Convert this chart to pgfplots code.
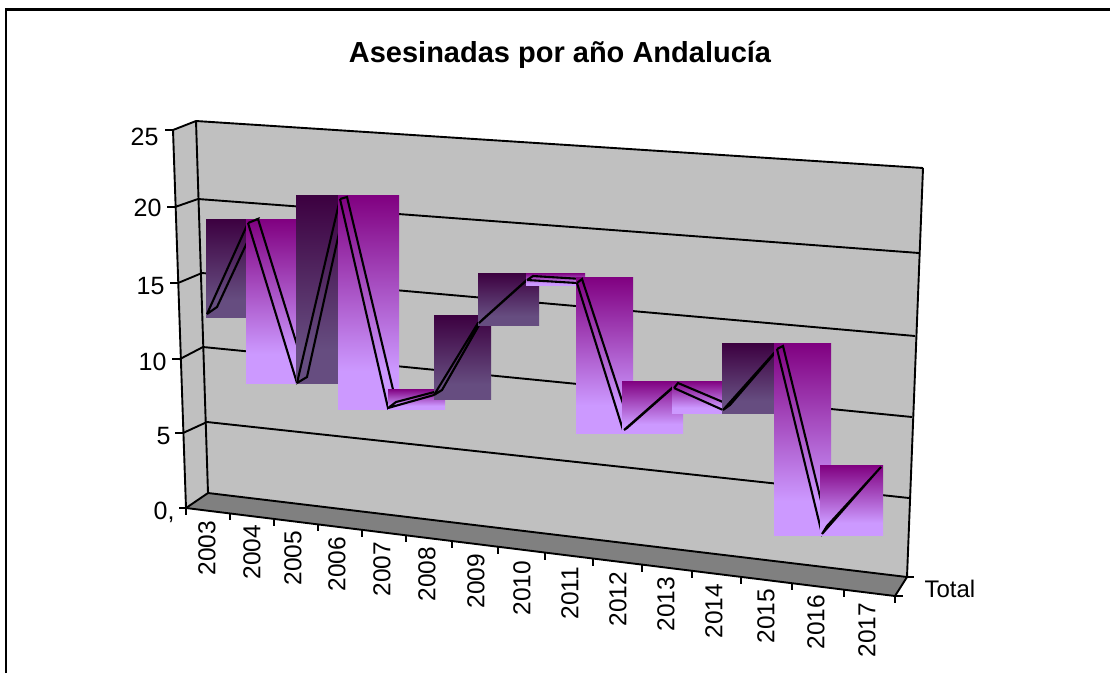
\documentclass[border=0pt]{standalone}
\usepackage{fontspec}
\setmainfont{Liberation Sans}
\usepackage{pgfplots}
\pgfplotsset{compat=1.18}
\definecolor{wall}{HTML}{C0C0C0}
\definecolor{floorc}{HTML}{808080}
\definecolor{ltop}{HTML}{800080}
\definecolor{lbot}{HTML}{CC99FF}
\definecolor{dtop}{HTML}{3C0040}
\definecolor{dbot}{HTML}{664D80}
\pgfdeclareverticalshading{lshade}{100bp}{color(0bp)=(lbot);color(25bp)=(lbot);color(34bp)=(lbot);color(75bp)=(ltop);color(100bp)=(ltop)}
\pgfdeclareverticalshading{dshade}{100bp}{color(0bp)=(dbot);color(25bp)=(dbot);color(34bp)=(dbot);color(75bp)=(dtop);color(100bp)=(dtop)}
\newcommand{\rect}[5]{\addplot[draw=none,shading=#1shade,forget plot] coordinates {(#2,#3)(#4,#3)(#4,#5)(#2,#5)(#2,#3)};}
\newcommand{\rib}[1]{\addplot[black,line width=2.1pt,line join=miter,forget plot] coordinates {#1};}
\newcommand{\blk}[1]{\addplot[black,line width=1.9pt,forget plot] coordinates {#1};}
\newcommand{\yr}[3]{\node[rotate=90,font=\fontsize{24.5}{24.5}\selectfont,anchor=center] at (axis cs:#1,#2) {#3};}
\newcommand{\yl}[3]{\node[font=\fontsize{25}{25}\selectfont,anchor=east] at (axis cs:#1,#2) {#3};}
\begin{document}
\begin{tikzpicture}
\useasboundingbox (0,0) rectangle (1110pt,673pt);
\begin{axis}[
  at={(0,0)}, anchor=south west,
  scale only axis, width=1110pt, height=673pt,
  xmin=0, xmax=1110, ymin=0, ymax=673, y dir=reverse,
  hide axis, clip=false]
% chart frame
\addplot[black,line width=2.4pt,forget plot] coordinates {(6,673)(6,9.5)(1110,9.5)};
% walls and floor
\addplot[draw=none,fill=wall,forget plot] coordinates {(173,130)(196,121)(923,168)(907,577)(208,493)(186,508)(173,130)};
\addplot[draw=none,fill=floorc,forget plot] coordinates {(186,508)(208,493)(907,577)(895,596)(186,508)};
% grid lines: front edge, back corner, right end
\blk{(173,130)(196,121)(923,168)}
\blk{(175,207)(198,199)(919,253)}
\blk{(178,283)(202,273)(915,336)}
\blk{(180,359)(203,347)(912,417)}
\blk{(183,433)(207,422)(909,498)}
\blk{(186,508)(208,493)(907,577)}
\blk{(173,130)(186,508)}
\blk{(196,121)(208,493)}
\blk{(923,168)(907,577)}
\blk{(186,508)(895,596)}
\blk{(907,577)(895,596)}
% value axis ticks
\blk{(165,130)(173,130)}
\blk{(167,207)(175,207)}
\blk{(170,283)(178,283)}
\blk{(172,359)(180,359)}
\blk{(175,433)(183,433)}
\blk{(179,508)(186,508)}
% depth ticks
\blk{(907,577)(914,577)}
\blk{(895,596)(903,596)}
% category ticks
\blk{(186,508)(186,515)}
\blk{(230,513.5)(230,520)}
\blk{(274,519)(274,526)}
\blk{(318,524.5)(318,531)}
\blk{(362,530)(362,537)}
\blk{(406,535.5)(406,542)}
\blk{(452,541)(452,548)}
\blk{(498,546.7)(498,553.5)}
\blk{(545,552.5)(545,559.5)}
\blk{(593,558.5)(593,565.5)}
\blk{(642,564.6)(642,571.5)}
\blk{(692,570.8)(692,577.5)}
\blk{(741,576.9)(741,584)}
\blk{(792,583.2)(792,590)}
\blk{(844,589.6)(844,596.5)}
\blk{(895,596)(895,603)}
% ribbon: one gradient box and one outline for each yearly step
\rect{d}{206}{219}{246}{317.5}
\rib{(207,314)(217,307)(258,219)(248,223)(207,314)}
\rect{l}{246}{219}{296}{383.5}
\rib{(248,223)(258,219)(307,377)(297,383)(248,223)}
\rect{d}{296}{195}{338}{383.5}
\rib{(297,383)(307,377)(347,197)(340,199)(297,383)}
\rect{l}{338}{195}{399}{409.5}
\rib{(340,199)(347,197)(396,402)(388,408)(340,199)}
\rect{l}{388}{389}{445}{409.5}
\rib{(388,408)(396,402)(442,390)(434,395)(388,408)}
\rect{d}{434}{315}{491}{399.5}
\rib{(434,395)(442,390)(482,320)(478,323)(434,395)}
\rect{d}{478}{273}{539}{325.5}
\rib{(479,323)(482,320)(530,277)(527,280)(479,323)}
\rect{l}{526}{273}{585}{285.5}
\rib{(527,280)(533,276)(582,279)(577,283)(527,280)}
\rect{l}{576}{277}{633}{433.5}
\rib{(577,283)(582,279)(630,425)(623,430)(577,283)}
\rect{l}{622}{381}{683}{433.5}
\rib{(624,430)(627,428)(677,384)(673,387)(624,430)}
\rect{l}{672}{381}{722}{413.5}
\rib{(674,388)(678,383)(730,405)(723,410)(674,388)}
\rect{d}{722}{343}{774}{413.5}
\rib{(723,410)(730,405)(780,347)(774,353)(723,410)}
\rect{l}{774}{343}{831}{535.5}
\rib{(777,349)(783,346)(827,525)(822,534)(777,349)}
\rect{l}{820}{465}{883}{535.5}
\rib{(822,534)(827,526)(881,467)(880,468)(822,534)}
% text
\node[font=\bfseries\fontsize{29}{29}\selectfont,anchor=center] at (axis cs:560,54.5) {Asesinadas por año Andalucía};
\yl{162}{137}{25}
\yl{165}{208}{20}
\yl{168}{286}{15}
\yl{170}{362}{10}
\yl{174}{436}{5}
\yl{178}{512}{0,}
\yr{207}{548}{2003}
\yr{252}{552}{2004}
\yr{293}{558}{2005}
\yr{337}{564}{2006}
\yr{382}{569}{2007}
\yr{427}{574}{2008}
\yr{476}{581}{2009}
\yr{522}{588}{2010}
\yr{570}{593}{2011}
\yr{618}{599}{2012}
\yr{666}{604}{2013}
\yr{714}{611}{2014}
\yr{766}{616}{2015}
\yr{816}{622}{2016}
\yr{867}{630}{2017}
\node[font=\fontsize{24}{24}\selectfont,anchor=west] at (axis cs:921,589) {Total};
\end{axis}
\end{tikzpicture}
\end{document}
